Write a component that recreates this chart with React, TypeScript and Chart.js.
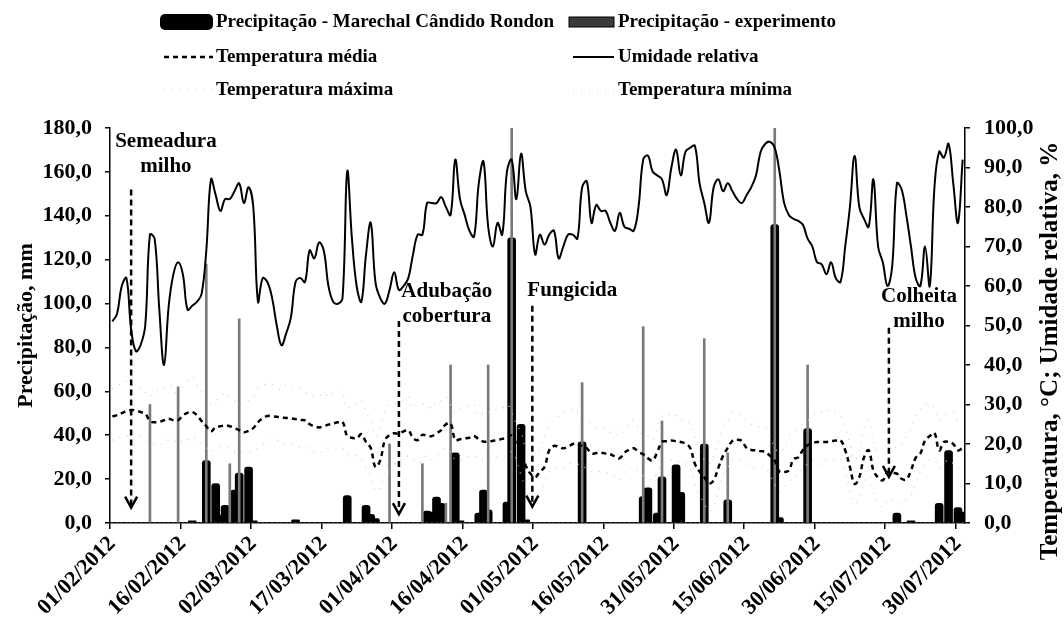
import React, { useEffect, useRef } from 'react';
import { Chart, registerables } from 'chart.js';

Chart.register(...registerables);

const FONT = "'Liberation Serif', 'Times New Roman', serif";

// Daily categories 01/02/2012 .. 31/07/2012
const N_DAYS = 182;
const pad = (n: number) => (n < 10 ? '0' + n : '' + n);
const CATEGORIES: string[] = Array.from({ length: N_DAYS }, (_, i) => {
  const d = new Date(Date.UTC(2012, 1, 1 + i));
  return `${pad(d.getUTCDate())}/${pad(d.getUTCMonth() + 1)}/${d.getUTCFullYear()}`;
});

const TICK_LABELS = [
  '01/02/2012', '16/02/2012', '02/03/2012', '17/03/2012', '01/04/2012', '16/04/2012', '01/05/2012',
  '16/05/2012', '31/05/2012', '15/06/2012', '30/06/2012', '15/07/2012', '30/07/2012',
];

// Precipitação - Marechal Cândido Rondon (mm)
const PRECIP_MCR = [
  0, 0, 0, 0, 0, 0, 0, 0, 0, 0,
  0, 0, 0, 0, 0, 0, 0, 1, 0, 0,
  28.5, 0, 18, 3.5, 8, 0, 15, 22.7, 0, 25.5,
  1, 0, 0, 0, 0, 0, 0, 0, 0, 1.5,
  0, 0, 0, 0, 0, 0, 0, 0, 0, 0,
  12.5, 0, 0, 0, 8, 4, 2, 0, 0, 0,
  0, 0, 0, 0, 0, 0, 0, 5.4, 5, 11.8,
  9, 0, 0, 32, 1, 0, 0, 0, 4.5, 15,
  6, 0, 0, 0, 9.5, 130, 0, 45, 1.5, 0,
  0, 0, 0, 0, 0, 0, 0, 0, 0, 0,
  37, 0, 0, 0, 0, 0, 0, 0, 0, 0,
  0, 0, 0, 12, 16, 0, 4.5, 21, 0, 0,
  26.5, 14, 0, 0, 0, 0, 36, 0, 0, 0,
  0, 10.6, 0, 0, 0, 0, 0, 0, 0, 0,
  0, 136, 2.5, 0, 0, 0, 0, 0, 43, 0,
  0, 0, 0, 0, 0, 0, 0, 0, 0, 0,
  0, 0, 0, 0, 0, 0, 0, 4.5, 0, 0,
  1, 0, 0, 0, 0, 0, 9, 0, 33, 0,
  7, 5,
];

// Precipitação - experimento (mm)
const PRECIP_EXP = [
  0, 0, 0, 0, 0, 0, 0, 0, 54, 0,
  0, 0, 0, 0, 62, 0, 0, 0, 0, 0,
  118, 0, 0, 0, 0, 27, 0, 93, 0, 0,
  0, 0, 0, 0, 0, 0, 0, 0, 0, 0,
  0, 0, 0, 0, 0, 0, 0, 0, 0, 0,
  0, 0, 0, 0, 0, 0, 0, 0, 0, 36,
  0, 0, 0, 0, 0, 0, 27, 0, 0, 0,
  0, 9, 72, 0, 0, 0, 0, 0, 0, 0,
  72, 0, 0, 0, 0, 182, 0, 0, 0, 0,
  0, 0, 0, 0, 0, 0, 0, 0, 0, 0,
  64, 0, 0, 0, 0, 0, 0, 0, 0, 0,
  0, 0, 0, 89.5, 0, 0, 0, 46.5, 0, 0,
  0, 0, 0, 0, 0, 0, 84, 0, 0, 0,
  0, 32, 0, 0, 0, 0, 0, 0, 0, 0,
  0, 182, 0, 0, 0, 0, 0, 0, 72, 0,
  0, 0, 0, 0, 0, 0, 0, 0, 0, 0,
  0, 0, 0, 0, 0, 0, 0, 0, 0, 0,
  0, 0, 0, 0, 0, 0, 0, 0, 0, 0,
  0, 0,
];

// Umidade relativa (%)
const RH = [
  51, 53, 60, 62, 49, 43.5, 45, 50, 73, 72,
  54, 40, 55, 63, 66, 63, 54, 55, 56, 58,
  69, 87, 83, 79, 82, 82, 84, 86, 81, 85,
  80, 56, 62, 61, 57, 50, 45, 48, 52, 61,
  62, 61, 69, 67, 71, 69, 60, 56, 55.5, 57,
  89, 72, 60, 56, 68, 76, 61, 57, 55.5, 59,
  63.5, 59, 60, 62, 68, 73, 73, 81, 81, 81,
  82.5, 80, 78, 92, 82, 78, 74, 72.5, 86, 91.5,
  75, 70, 76, 73, 89, 92, 82, 93.5, 84, 80,
  68, 73, 70.5, 73, 74, 67, 70, 73, 73, 72,
  85, 86.5, 76, 80.5, 79, 79, 76, 74, 78.5, 75,
  74.5, 74, 80, 92, 93, 89, 88, 87, 83, 90,
  94.5, 88, 94, 95, 95.5, 86, 81, 76, 85, 87,
  84, 86, 84, 82, 81, 83, 85, 88, 94, 96,
  96.5, 95, 89, 81, 78, 77, 76.5, 75.5, 72, 70,
  66, 65.5, 63, 66, 62, 61, 70, 80, 93, 80,
  77, 75, 87, 70, 66, 60, 65, 86, 84.5, 78,
  70, 62, 60, 70, 60, 85, 94, 92.5, 96, 86,
  76, 92,
];

// Temperatura média (°C)
const TMED = [
  27, 27.3, 27.8, 28.3, 28.6, 28.5, 28.1, 27.7, 25.8, 25.5,
  25.6, 26, 26.4, 26, 26, 27.2, 27.9, 28.1, 27.3, 25.8,
  24.5, 23.2, 24.3, 24.5, 24.7, 24.5, 24, 23.5, 23, 23.3,
  24, 25.5, 26.5, 27.1, 27, 26.9, 26.7, 26.6, 26.5, 26.3,
  26.1, 26, 25, 24.5, 24.2, 24.5, 24.9, 25.2, 25.5, 25.6,
  22, 21.6, 21.4, 22.5, 20.5, 19, 14.2, 15.8, 20.9, 22.3,
  22.7, 22.6, 23.2, 23.5, 21.5, 21, 22.3, 22.1, 22, 22.7,
  23.5, 25, 25.2, 21, 21.2, 21.4, 21.6, 22, 21.2, 20.6,
  20.6, 20.8, 21, 21.3, 21.5, 22.2, 20, 17.6, 14.5, 12.5,
  11.6, 13, 14.2, 18.4, 19.5, 19.3, 18.9, 19.3, 20, 20.2,
  19.5, 18.9, 17.6, 17.7, 17.8, 17.6, 17.4, 16.8, 16.4, 17.8,
  18.5, 18.9, 18, 17.4, 16.4, 15.8, 18, 20.5, 20.7, 20.9,
  20.7, 20.5, 20.1, 19, 15, 13, 11.6, 10, 10.8, 14,
  17, 19, 20.8, 21.1, 20.8, 19, 18.5, 18.4, 18.2, 18,
  17, 15.8, 13, 12.9, 13.3, 16.2, 16.6, 18.5, 19.7, 20.2,
  20.5, 20.5, 20.5, 20.7, 20.9, 21, 18.4, 14.2, 9.9, 11.6,
  16.6, 18.4, 13.3, 11.5, 10.8, 12.9, 12.7, 12.5, 11.2, 11,
  13.3, 16.5, 17.6, 20.9, 22, 22.8, 18.4, 20.5, 20.5, 20,
  18.4, 19,
];

// Temperatura máxima (°C)
const TMAX = [
  34, 35, 35, 36, 35, 35, 34, 33, 32, 33,
  34, 34, 35, 34, 32, 35, 36, 37, 35, 33,
  31, 30, 31, 32, 33, 32, 31, 30, 31, 31,
  32, 34, 35, 35, 35, 34, 34, 35, 34, 34,
  34, 33, 33, 32, 32, 33, 32, 33, 34, 33,
  29, 30, 30, 31, 28, 26, 22, 24, 28, 30,
  30, 31, 31, 32, 29, 30, 30, 30, 29, 31,
  31, 32, 30, 28, 29, 29, 30, 30, 27, 28,
  28, 28, 29, 29, 30, 28, 25, 23, 19, 18,
  17, 19, 22, 25, 26, 27, 28, 28, 29, 28,
  27, 26, 25, 24, 24, 24, 23, 23, 22, 24,
  25, 26, 24, 22, 22, 21, 24, 27, 27, 28,
  27, 26, 26, 25, 22, 18, 16, 15, 17, 21,
  24, 26, 28, 28, 27, 26, 25, 25, 24, 24,
  22, 19, 18, 19, 22, 23, 24, 25, 26, 27,
  28, 28, 28, 29, 28, 27, 24, 20, 16, 18,
  24, 26, 21, 18, 19, 20, 20, 19, 20, 22,
  24, 27, 29, 30, 30, 29, 26, 27, 28, 28,
  26, 27,
];

// Temperatura mínima (°C)
const TMIN = [
  21, 21, 22, 22, 22, 23, 22, 21, 21, 20,
  20, 20, 21, 21, 20, 21, 21, 22, 21, 20,
  19, 18, 19, 19, 19, 19, 18, 18, 18, 18,
  18, 19, 20, 21, 21, 21, 20, 20, 20, 20,
  19, 19, 19, 18, 18, 18, 19, 19, 19, 19,
  17, 17, 17, 16, 14, 12, 8, 9, 13, 15,
  15, 16, 16, 17, 16, 15, 16, 17, 16, 17,
  18, 19, 18, 16, 16, 16, 17, 17, 16, 16,
  16, 16, 17, 17, 17, 18, 16, 12, 9, 8,
  7, 8, 10, 13, 14, 14, 14, 15, 15, 15,
  14, 14, 13, 13, 13, 13, 12, 12, 11, 13,
  14, 14, 13, 12, 11, 11, 13, 15, 16, 16,
  16, 15, 15, 14, 10, 7, 5, 3, 4, 8,
  12, 14, 16, 16, 16, 15, 14, 14, 14, 14,
  12, 10, 8, 9, 10, 12, 12, 14, 15, 16,
  15, 15, 16, 16, 16, 16, 13, 8, 5, 6,
  10, 12, 8, 5, 4, 6, 6, 5, 5, 6,
  7, 10, 13, 15, 16, 16, 14, 15, 16, 15,
  14, 14,
];

// Event annotations: day index of arrow, arrow from/to in mm (left axis), text anchor
const EVENTS = [
  { lines: ['Semeadura', 'milho'], day: 4, from: 152, to: 7, textDay: 11.4, textMm: 174 },
  { lines: ['Adubação', 'cobertura'], day: 61, from: 92, to: 4, textDay: 71.2, textMm: 105.5 },
  { lines: ['Fungicida'], day: 89.4, from: 99, to: 7.5, textDay: 97.9, textMm: 106 },
  { lines: ['Colheita', 'milho'], day: 165.3, from: 89, to: 21, textDay: 171.7, textMm: 103 },
];

const fmt = (v: number | string) => Number(v).toFixed(1).replace('.', ',');

const overlayPlugin = {
  id: 'overlay',
  afterDraw(chart: any) {
    const ctx: CanvasRenderingContext2D = chart.ctx;
    const xs = chart.scales.x;
    const yp = chart.scales.yP;
    const area = chart.chartArea;
    ctx.save();

    // Axis titles
    ctx.fillStyle = '#000';
    ctx.textAlign = 'center';
    ctx.textBaseline = 'middle';
    ctx.font = `bold 22px ${FONT}`;
    ctx.save();
    ctx.translate(26, (area.top + area.bottom) / 2);
    ctx.rotate(-Math.PI / 2);
    ctx.fillText('Precipitação, mm', 0, 0);
    ctx.restore();
    ctx.font = `bold 25px ${FONT}`;
    ctx.save();
    ctx.translate(1051, 351);
    ctx.rotate(-Math.PI / 2);
    ctx.fillText('Temperatura, °C; Umidade relativa, %', 0, 0);
    ctx.restore();

    // Event arrows and labels
    ctx.font = `bold 21px ${FONT}`;
    EVENTS.forEach((ev) => {
      const x = xs.getPixelForValue(ev.day);
      const y0 = yp.getPixelForValue(ev.from);
      const y1 = yp.getPixelForValue(ev.to);
      ctx.strokeStyle = '#000';
      ctx.lineWidth = 2.5;
      ctx.setLineDash([6, 4]);
      ctx.beginPath();
      ctx.moveTo(x, y0);
      ctx.lineTo(x, y1);
      ctx.stroke();
      ctx.setLineDash([]);
      ctx.beginPath();
      ctx.moveTo(x - 6, y1 - 11);
      ctx.lineTo(x, y1);
      ctx.lineTo(x + 6, y1 - 11);
      ctx.stroke();
      const tx = xs.getPixelForValue(ev.textDay);
      const ty = yp.getPixelForValue(ev.textMm);
      ev.lines.forEach((t, i) => ctx.fillText(t, tx, ty + i * 25));
    });

    // Legend
    const ds = chart.data.datasets;
    const rows = [22, 57, 90];
    const colSym = [[160, 213], [569, 614]];
    const colText = [216, 618];
    const layout = [
      { ds: 0, col: 0, row: 0 },
      { ds: 1, col: 1, row: 0 },
      { ds: 3, col: 0, row: 1 },
      { ds: 2, col: 1, row: 1 },
      { ds: 4, col: 0, row: 2 },
      { ds: 5, col: 1, row: 2 },
    ];
    ctx.font = `bold 19px ${FONT}`;
    ctx.textAlign = 'left';
    layout.forEach((item) => {
      const d = ds[item.ds];
      const y = rows[item.row];
      const [sx0, sx1] = colSym[item.col];
      if (d.type === 'line') {
        ctx.strokeStyle = d.borderColor;
        ctx.lineWidth = d.borderWidth;
        ctx.setLineDash(d.borderDash || []);
        ctx.beginPath();
        ctx.moveTo(sx0 + 4, y);
        ctx.lineTo(sx1, y);
        ctx.stroke();
        ctx.setLineDash([]);
      } else if (item.ds === 0) {
        ctx.fillStyle = '#000';
        ctx.beginPath();
        (ctx as any).roundRect(sx0, y - 8, sx1 - sx0, 16, 5);
        ctx.fill();
      } else {
        ctx.fillStyle = '#3a3a3a';
        ctx.strokeStyle = '#000';
        ctx.lineWidth = 1;
        ctx.fillRect(sx0, y - 5, sx1 - sx0, 10);
        ctx.strokeRect(sx0, y - 5, sx1 - sx0, 10);
      }
      ctx.fillStyle = '#000';
      ctx.fillText(d.label, colText[item.col], y);
    });
    ctx.restore();
  },
};

export default function App() {
  const ref = useRef<HTMLCanvasElement>(null);

  useEffect(() => {
    const tickFont = { family: FONT, size: 22, weight: 'bold' as const };
    const chart = new Chart(ref.current as HTMLCanvasElement, {
      type: 'bar',
      data: {
        labels: CATEGORIES,
        datasets: [
          {
            type: 'bar',
            label: 'Precipitação - Marechal Cândido Rondon',
            data: PRECIP_MCR,
            backgroundColor: '#000',
            barThickness: 8,
            borderRadius: 3,
            grouped: false,
            yAxisID: 'yP',
            order: 3,
          } as any,
          {
            type: 'bar',
            label: 'Precipitação - experimento',
            data: PRECIP_EXP,
            backgroundColor: '#7a7a7a',
            barThickness: 2,
            grouped: false,
            yAxisID: 'yP',
            order: 2,
          } as any,
          {
            type: 'line',
            label: 'Umidade relativa',
            data: RH,
            borderColor: '#000',
            borderWidth: 2,
            pointRadius: 0,
            tension: 0.4,
            fill: false,
            yAxisID: 'yT',
            order: 0,
          } as any,
          {
            type: 'line',
            label: 'Temperatura média',
            data: TMED,
            borderColor: '#000',
            borderWidth: 2.5,
            borderDash: [5, 4],
            pointRadius: 0,
            tension: 0.4,
            fill: false,
            yAxisID: 'yT',
            order: 0,
          } as any,
          {
            type: 'line',
            label: 'Temperatura máxima',
            data: TMAX,
            borderColor: '#cfcfcf',
            borderWidth: 1.2,
            borderDash: [1, 7],
            pointRadius: 0,
            tension: 0.4,
            fill: false,
            yAxisID: 'yT',
            order: 1,
          } as any,
          {
            type: 'line',
            label: 'Temperatura mínima',
            data: TMIN,
            borderColor: '#cfcfcf',
            borderWidth: 1.2,
            borderDash: [1, 7],
            pointRadius: 0,
            tension: 0.4,
            fill: false,
            yAxisID: 'yT',
            order: 1,
          } as any,
        ],
      },
      options: {
        responsive: false,
        animation: false,
        devicePixelRatio: 1,
        layout: { padding: { top: 128, left: 0, right: 0, bottom: 0 } },
        plugins: { legend: { display: false }, tooltip: { enabled: false } },
        scales: {
          x: {
            type: 'category',
            offset: true,
            grid: {
              offset: true,
              drawOnChartArea: false,
              drawTicks: true,
              tickLength: 6,
              lineWidth: 1.5,
              color: (c: any) => (TICK_LABELS.includes(CATEGORIES[c.index]) ? '#000' : 'rgba(0,0,0,0)'),
            },
            border: { display: true, color: '#000', width: 1.5 },
            ticks: {
              autoSkip: false,
              maxRotation: 45,
              minRotation: 45,
              padding: 2,
              color: '#000',
              font: tickFont,
              callback: (_v: any, i: number) => (TICK_LABELS.includes(CATEGORIES[i]) ? CATEGORIES[i] : ''),
            },
            afterFit: (s: any) => { s.height = 100; },
          },
          yP: {
            type: 'linear',
            position: 'left',
            min: 0,
            max: 180,
            grid: { drawOnChartArea: false, drawTicks: true, tickLength: 5, color: '#000', lineWidth: 1.5 },
            border: { display: true, color: '#000', width: 1.5 },
            ticks: { stepSize: 20, padding: 13, color: '#000', font: tickFont, callback: (v: any) => fmt(v) },
            afterFit: (s: any) => { s.width = 110; },
          },
          yT: {
            type: 'linear',
            position: 'right',
            min: 0,
            max: 100,
            grid: { drawOnChartArea: false, drawTicks: true, tickLength: 5, color: '#000', lineWidth: 1.5 },
            border: { display: true, color: '#000', width: 1.5 },
            ticks: { stepSize: 10, padding: 14, color: '#000', font: tickFont, callback: (v: any) => fmt(v) },
            afterFit: (s: any) => { s.width = 99; },
          },
        },
      },
      plugins: [overlayPlugin],
    });
    return () => chart.destroy();
  }, []);

  return (
    <div style={{ position: 'absolute', left: 0, top: 0, width: 1064, height: 623, background: '#fff' }}>
      <canvas ref={ref} width={1064} height={623} style={{ width: 1064, height: 623 }} />
    </div>
  );
}
